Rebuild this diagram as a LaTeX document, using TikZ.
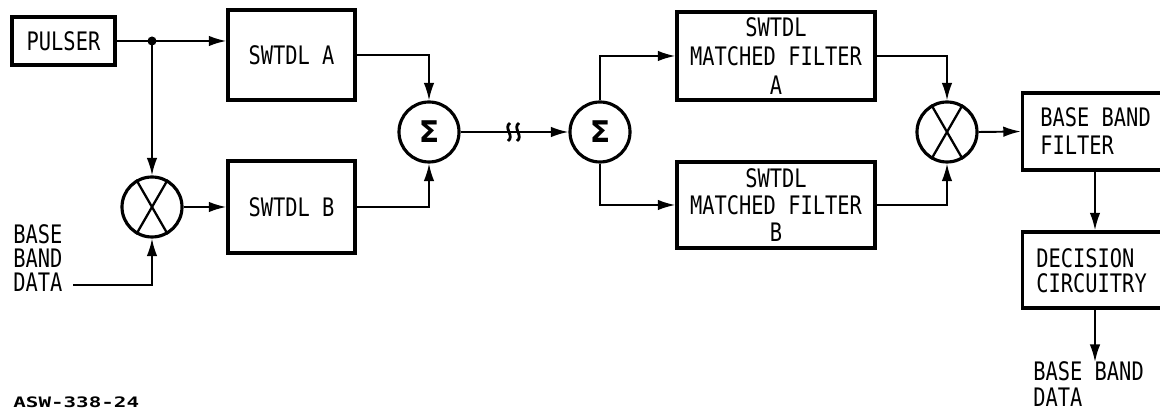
\documentclass[tikz,border=0pt]{standalone}
\usepackage{fontspec}
\setmainfont{DejaVu Sans Mono}[FakeStretch=0.8]
\newfontfamily\tagfont{DejaVu Sans Mono}[FakeStretch=1.45]
\newfontfamily\sigfont{DejaVu Sans}
\usetikzlibrary{arrows.meta}
\begin{document}
\begin{tikzpicture}[x=0.02cm,y=-0.02cm,
  every node/.style={font=\fontsize{14.5}{16}\selectfont},
  blk/.style={draw,line width=1.9pt,inner sep=0pt},
  circ/.style={draw,circle,line width=1.8pt,minimum size=1.2cm,inner sep=0pt},
  conn/.style={line width=1.1pt},
  arr/.style={conn,-{Latex[length=10pt,width=6pt]}},
  lbl/.style={align=left,anchor=west,inner sep=0pt}
]
\clip (0,0) rectangle (1160,411);
% boxes
\node[blk,minimum width=2.06cm,minimum height=0.96cm] (pulser) at (63.5,41) {PULSER};
\node[blk,minimum width=2.54cm,minimum height=1.80cm] (swa) at (291.5,55) {SWTDL A};
\node[blk,minimum width=2.54cm,minimum height=1.84cm] (swb) at (291.5,207) {SWTDL B};
\node[blk,minimum width=3.96cm,minimum height=1.76cm,align=center,
      font=\fontsize{14.5}{16.5}\selectfont] (mfa) at (776,56) {SWTDL\\MATCHED FILTER\\A};
\node[blk,minimum width=3.96cm,minimum height=1.72cm,align=center,
      font=\fontsize{14.5}{15.5}\selectfont] (mfb) at (776,205) {SWTDL\\MATCHED FILTER\\B};
\node[blk,minimum width=2.9cm,minimum height=1.54cm] (bbf) at (1095,131.5) {};
\node[blk,minimum width=2.9cm,minimum height=1.52cm] (dec) at (1095,270) {};
\node[lbl,font=\fontsize{14.5}{15.8}\selectfont] (bbft) at (1040,131) {BASE BAND\\FILTER};
\node[lbl,font=\fontsize{14.5}{14.2}\selectfont] (dect) at (1036,270.5) {DECISION\\CIRCUITRY};
% circles
\node[circ] (m1) at (152,207) {};
\node[circ] (s1) at (429,132) {\sigfont\bfseries\fontsize{17}{17}\selectfont Σ};
\node[circ] (s2) at (600,132) {\sigfont\bfseries\fontsize{17}{17}\selectfont Σ};
\node[circ] (m2) at (947,132) {};
\foreach \m in {m1,m2}{
  \draw[line width=1.3pt] (\m.120) -- (\m.-60);
  \draw[line width=1.3pt] (\m.60) -- (\m.240);
}
% labels
\node[lbl,font=\fontsize{14.5}{13.5}\selectfont] (bbdt) at (13,258) {BASE\\BAND\\DATA};
\node[lbl,font=\fontsize{14.5}{14.5}\selectfont] (outt) at (1033,384) {BASE BAND\\DATA};
\node[lbl,font=\tagfont\bfseries\fontsize{8.2}{9}\selectfont] (tag) at (13,402) {ASW-338-24};
% coordinates
\coordinate (j) at (152,41);
\coordinate (bbd) at (73,285);
\coordinate (out) at (1095,362);
% connectors
\draw[conn] (pulser.east) -- (j);
\draw[arr] (j) -- (swa.west |- j);
\fill (j) circle (4.5);
\draw[arr] (j) -- (m1.north);
\draw[arr] (bbd) -| (m1.south);
\draw[arr] (m1.east) -- (swb.west);
\draw[arr] (swa.east) -| (s1.north);
\draw[arr] (swb.east) -| (s1.south);
\draw[arr] (s1.east) -- (s2.west);
\draw[line width=1.6pt] (510,123) .. controls (503,128) and (515,136) .. (508,141);
\draw[line width=1.6pt] (519,123) .. controls (512,128) and (524,136) .. (517,141);
\draw[arr] (s2.north) |- (mfa.west);
\draw[arr] (s2.south) |- (mfb.west);
\draw[arr] (mfa.east) -| (m2.north);
\draw[arr] (mfb.east) -| (m2.south);
\draw[arr] (m2.east) -- (bbf.west);
\draw[arr] (bbf.south) -- (dec.north);
\draw[arr] (dec.south) -- (out);
\end{tikzpicture}
\end{document}
